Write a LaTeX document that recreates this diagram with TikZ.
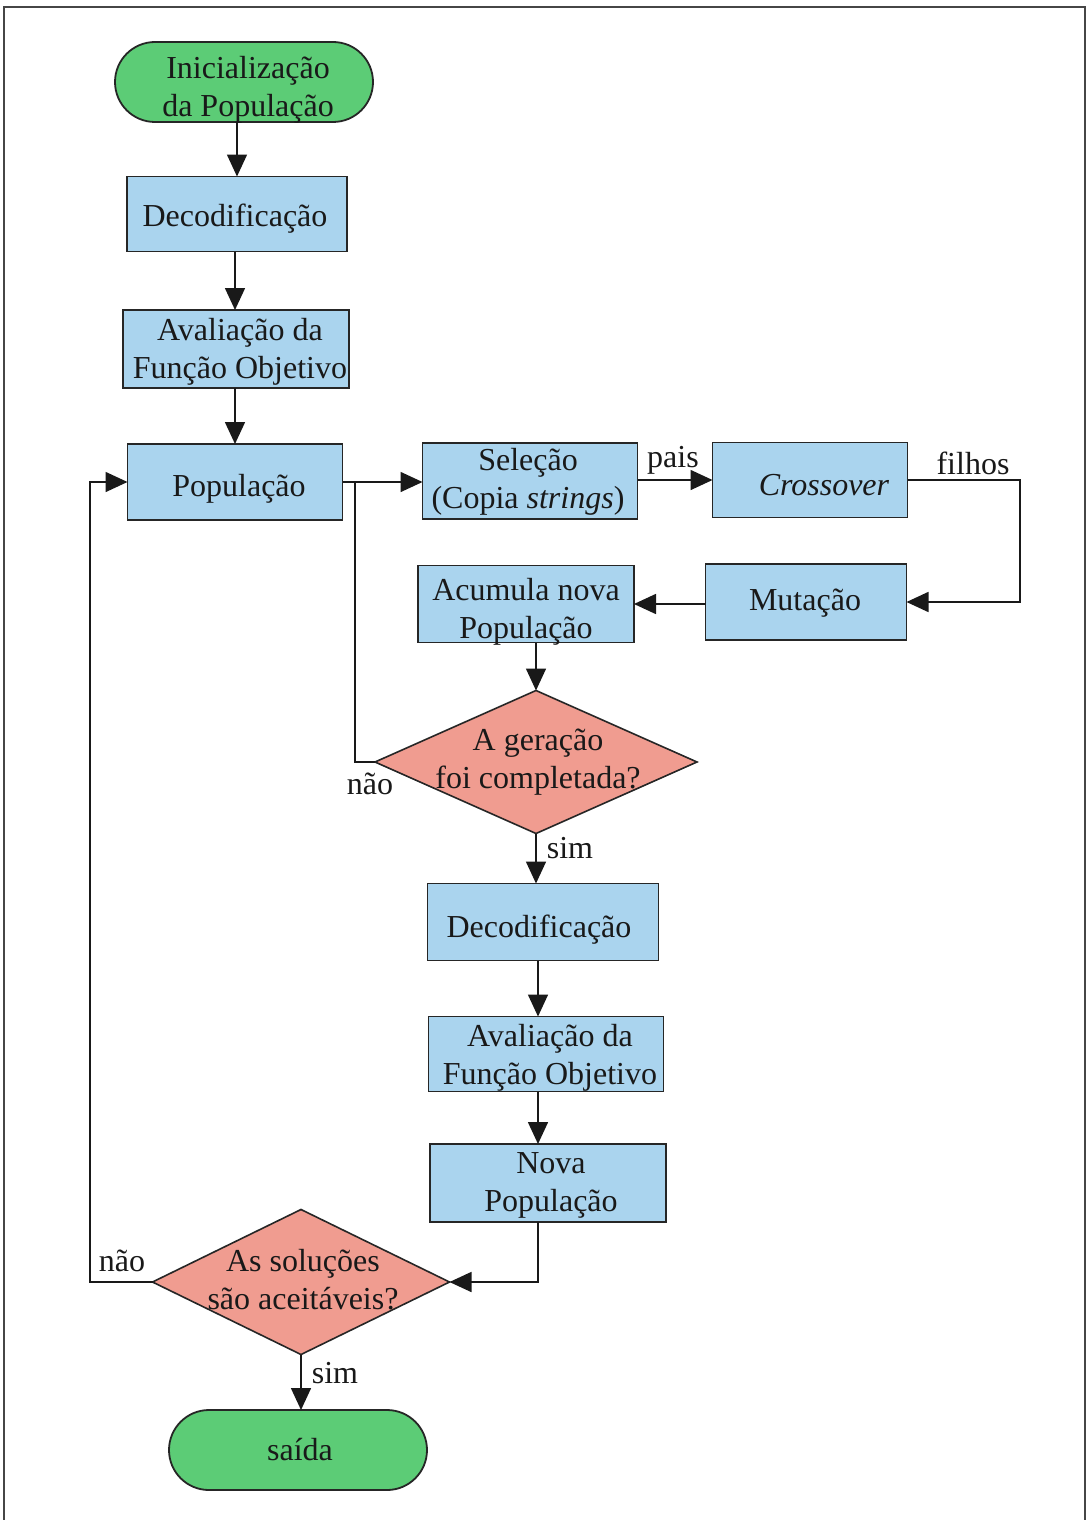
\documentclass[tikz,border=0pt]{standalone}
\usepackage{fontspec}
\setmainfont{Liberation Serif}
\usetikzlibrary{arrows.meta,shapes.geometric}
\definecolor{boxblue}{RGB}{170,212,238}
\definecolor{termgreen}{RGB}{92,204,118}
\definecolor{decpink}{RGB}{240,156,144}
\definecolor{framegray}{RGB}{70,70,70}
\begin{document}
\begin{tikzpicture}[x=0.5pt,y=-0.5pt,
  txt/.style={font=\fontsize{16}{19}\selectfont, align=center, text=black!90, inner sep=0pt},
  procbox/.style={draw=black!85, line width=0.8pt, fill=boxblue, rectangle, inner sep=0pt, outer sep=0pt},
  termbox/.style={draw=black!85, line width=0.9pt, fill=termgreen, rectangle, rounded corners=20pt, inner sep=0pt, outer sep=0pt, minimum width=129pt, minimum height=40pt},
  decbox/.style={draw=black!85, line width=0.8pt, fill=decpink, diamond, inner sep=0pt, outer sep=0pt},
  lbl/.style={font=\fontsize{16}{19}\selectfont, text=black!90, inner sep=0pt},
  conn/.style={line width=0.8pt, draw=black!90},
  arr/.style={conn, -{Triangle[length=11pt,width=10pt]}}]
\useasboundingbox (0,0) rectangle (1090,1520);
\fill[white] (0,0) rectangle (1090,1520);
% page frame
\draw[framegray, line width=0.8pt] (4,1520) -- (4,7) -- (1085,7) -- (1085,1520);

% terminals
\node[termbox] (init) at (244,82) {};
\node[termbox] (fim) at (298,1450) {};

% upper column
\node[procbox, minimum width=110pt, minimum height=37.5pt] (dec1) at (237,214) {};
\node[procbox, minimum width=113pt, minimum height=39pt] (aval1) at (236,349) {};
\node[procbox, minimum width=107.5pt, minimum height=38pt] (pop) at (235,482) {};

% genetic operators
\node[procbox, minimum width=107.5pt, minimum height=38pt] (sel) at (530,481) {};
\node[procbox, minimum width=97.5pt, minimum height=37.5pt] (cross) at (810,480) {};
\node[procbox, minimum width=100.5pt, minimum height=38pt] (mut) at (806,602) {};
\node[procbox, minimum width=108pt, minimum height=38.5pt] (acum) at (526,604) {};

% first decision
\node[decbox, minimum width=161pt, minimum height=71.5pt] (d1) at (536,762) {};

% lower column
\node[procbox, minimum width=115.5pt, minimum height=38.5pt] (dec2) at (543,922) {};
\node[procbox, minimum width=117.5pt, minimum height=37.5pt] (aval2) at (546,1054) {};
\node[procbox, minimum width=118pt, minimum height=39pt] (nova) at (548,1183) {};

% second decision
\node[decbox, minimum width=148.5pt, minimum height=72.5pt] (d2) at (301,1282) {};

% helper coordinates for the feedback loops
\coordinate (jx) at (355,0);
\coordinate (fx) at (1020,0);
\coordinate (lx) at (90,0);
\coordinate (nx) at (538,0);

% main flow
\draw[arr] (init.south -| dec1.north) -- (dec1.north);
\draw[arr] (dec1.south -| pop.north) -- (pop.north |- aval1.north);
\draw[arr] (aval1.south -| pop.north) -- (pop.north);
\draw[arr] (pop.east) -- (pop.east -| sel.west);
\draw[arr] (sel.east |- cross.west) -- (cross.west);
\draw[arr] (cross.east) -- (cross.east -| fx) -- (mut.east -| fx) -- (mut.east);
\draw[arr] (mut.west |- acum.east) -- (acum.east);
\draw[arr] (acum.south -| d1.north) -- (d1.north);
\draw[conn] (d1.west) -- (d1.west -| jx) -- (pop.east -| jx);
\draw[arr] (d1.south) -- (d1.south |- dec2.north);
\draw[arr] (dec2.south -| nx) -- (nx |- aval2.north);
\draw[arr] (aval2.south -| nx) -- (nx |- nova.north);
\draw[arr] (nova.south -| nx) -- (nx |- d2.east) -- (d2.east);
\draw[arr] (d2.west) -- (d2.west -| lx) -- (pop.west -| lx) -- (pop.west);
\draw[arr] (d2.south) -- (d2.south |- fim.north);

% texts of the shapes, set above outlines and connectors
\node[txt] (initt) at (248,90) {Inicialização\\da População};
\node[txt] (fimt) at (300,1450) {saída};
\node[txt] (dec1t) at (235,219) {Decodificação};
\node[txt] (aval1t) at (240,352) {Avaliação da\\Função Objetivo};
\node[txt] (popt) at (239,489) {População};
\node[txt] (selt) at (528,482) {Seleção\\(Copia \textit{strings})};
\node[txt] (crosst) at (824,485) {\textit{Crossover}};
\node[txt] (mutt) at (805,603) {Mutação};
\node[txt] (acumt) at (526,612) {Acumula nova\\População};
\node[txt] (d1t) at (538,762) {A geração\\foi completada?};
\node[txt] (dec2t) at (539,930) {Decodificação};
\node[txt] (aval2t) at (550,1058) {Avaliação da\\Função Objetivo};
\node[txt] (novat) at (551,1185) {Nova\\População};
\node[txt] (d2t) at (303,1280) {As soluções\\são aceitáveis?};

% connector labels
\node[lbl] (lpais) at (673,460) {pais};
\node[lbl] (lfilhos) at (973,463) {filhos};
\node[lbl] (lnao1) at (370,784) {não};
\node[lbl] (lsim1) at (570,848) {sim};
\node[lbl] (lnao2) at (122,1261) {não};
\node[lbl] (lsim2) at (335,1373) {sim};
\end{tikzpicture}
\end{document}
